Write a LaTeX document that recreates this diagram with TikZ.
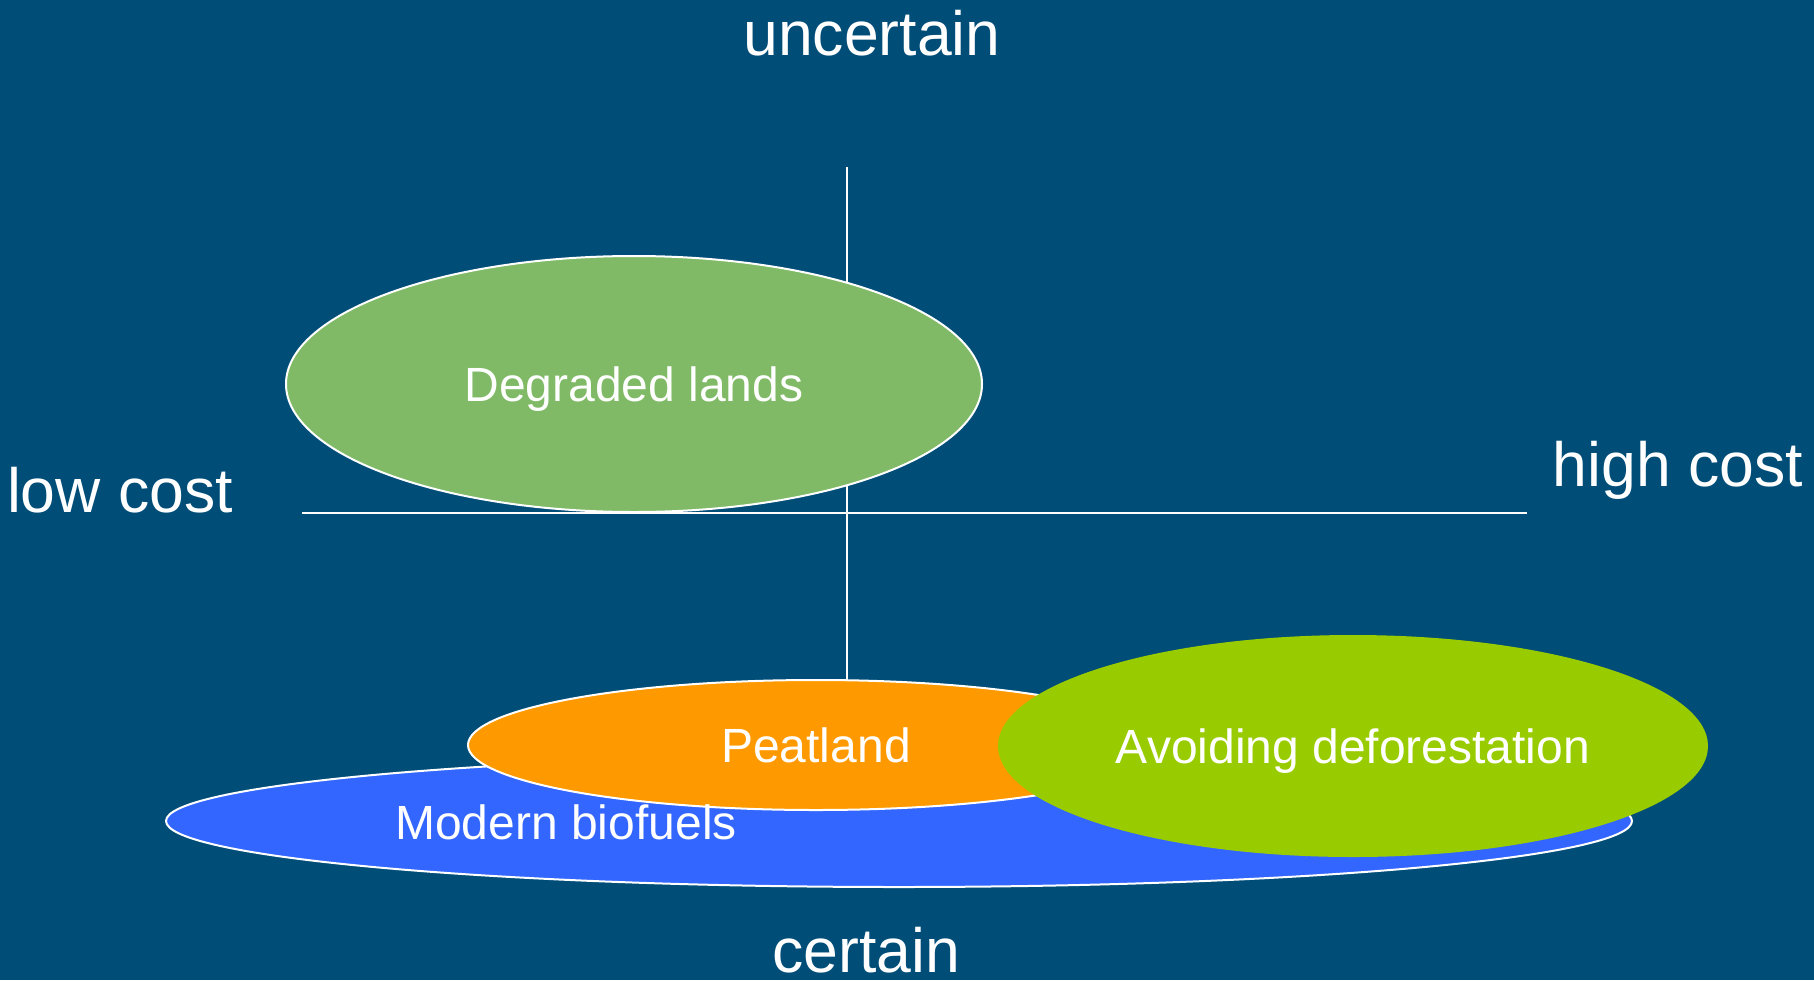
\documentclass[tikz,border=0pt]{standalone}
\usepackage{fontspec}
\setmainfont{Liberation Sans}
\usetikzlibrary{shapes.geometric}

\definecolor{slideblue}{RGB}{0,77,120}
\definecolor{degradedgreen}{RGB}{128,186,103}
\definecolor{peatorange}{RGB}{255,153,0}
\definecolor{biofuelblue}{RGB}{51,102,255}
\definecolor{forestgreen}{RGB}{153,204,0}

\tikzset{
    axislabel/.style={text=white, font=\fontsize{31.25pt}{36pt}\selectfont, anchor=base, inner sep=0pt},
    area/.style={ellipse, inner sep=0pt, text=white, font=\fontsize{24pt}{28pt}\selectfont, text height=17.5pt, text depth=0pt},
    rim/.style={draw=white, line width=1pt},
}

\begin{document}
\begin{tikzpicture}[x=0.5pt, y=-0.5pt]
            \fill[slideblue] (0, 0) rectangle (1814, 980);
            % axes
            \coordinate (up) at (847, 167);
            \coordinate (down) at (847, 690);
            \coordinate (left) at (302, 512.5);
            \coordinate (right) at (1527, 512.5);
            \draw[white, line width=1pt] (up) -- (down);
            \draw[white, line width=1pt] (left) -- (right);
            \node[axislabel] (uncertain) at (872, 55) {uncertain};
            \node[axislabel] (certain) at (866, 972) {certain};
            \node[axislabel] (lowcost) at (120, 512) {low cost};
            \node[axislabel] (highcost) at (1678, 486) {high cost};
            % options
            \node[area, rim, fill=degradedgreen, minimum width=348pt, minimum height=128pt] (degraded) at (634, 384) {Degraded lands};
            \node[area, rim, fill=biofuelblue, minimum width=733pt, minimum height=66pt] (biofuels) at (899, 821) {};
            \node[area, rim, fill=peatorange, minimum width=348pt, minimum height=65pt] (peat) at (816, 745) {Peatland};
            \node[area, fill=forestgreen, minimum width=355pt, minimum height=111pt] (forest) at (1353, 746) {Avoiding deforestation};
            \node[text=white, font=\fontsize{24pt}{28pt}\selectfont, anchor=base, inner sep=0pt] (biofuelstext) at (566, 839) {Modern biofuels};
        \end{tikzpicture}
\end{document}
